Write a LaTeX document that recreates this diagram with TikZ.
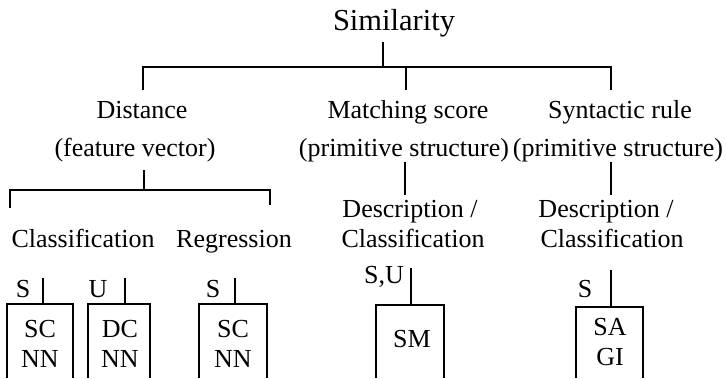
\documentclass[tikz,border=0pt]{standalone}
\usepackage{fontspec}
\setmainfont{Liberation Serif}
\begin{document}
\begin{tikzpicture}[x=1pt,y=-1pt,line width=1.6pt,
  lbl/.style={anchor=base,inner sep=0pt,font=\fontsize{26}{30}\selectfont},
  ttl/.style={anchor=base,inner sep=0pt,font=\fontsize{30.5}{34}\selectfont},
  leafbox/.style={line width=1.6pt}]
\useasboundingbox (0,0) rectangle (726,378);
% title
\node[ttl] (sim) at (394,30) {Similarity};
\coordinate (simb) at (383,42);
\coordinate (bar1) at (383,67);
\draw (simb) -- (bar1);
% second level
\coordinate (d1) at (143,90);
\coordinate (m1) at (406,90);
\coordinate (s1) at (611,90);
\draw (d1) |- (bar1) -| (s1);
\draw (m1) -- (m1 |- bar1);
\node[lbl] (dist) at (142,118) {Distance};
\node[lbl] (distb) at (135,156) {(feature vector)};
\node[lbl] (mat) at (408,118) {Matching score};
\node[lbl] (matb) at (404,156) {(primitive structure)};
\node[lbl] (syn) at (620,118) {Syntactic rule};
\node[lbl] (synb) at (618,156) {(primitive structure)};
% distance branch
\coordinate (dt) at (144,170);
\coordinate (bar2) at (144,190);
\coordinate (cl1) at (10,208);
\coordinate (rg1) at (270,205);
\draw (dt) -- (bar2);
\draw (cl1) |- (bar2) -| (rg1);
\node[lbl] (cls) at (83,247) {Classification};
\node[lbl] (reg) at (234,247) {Regression};
% matching / syntactic branches
\coordinate (mt) at (405,162);
\coordinate (mb) at (405,195);
\coordinate (st) at (611,162);
\coordinate (sb) at (611,195);
\draw (mt) -- (mb);
\draw (st) -- (sb);
\node[lbl] (desc1) at (410,217) {Description /};
\node[lbl] (desc1b) at (413,247) {Classification};
\node[lbl] (desc2) at (606,217) {Description /};
\node[lbl] (desc2b) at (612,247) {Classification};
% leaves
\node[lbl] (lS1) at (23,297) {S};
\node[lbl] (lU) at (98,297) {U};
\node[lbl] (lS2) at (213,297) {S};
\node[lbl] (lSU) at (384,283) {S,U};
\node[lbl] (lS3) at (585,297) {S};
\coordinate (a1) at (43,278); \coordinate (a2) at (43,304);
\coordinate (b1) at (125,278); \coordinate (b2) at (125,304);
\coordinate (c1) at (235,278); \coordinate (c2) at (235,304);
\coordinate (e1) at (411,268); \coordinate (e2) at (411,305);
\coordinate (f1) at (611,270); \coordinate (f2) at (611,307);
\draw (a1) -- (a2);
\draw (b1) -- (b2);
\draw (c1) -- (c2);
\draw (e1) -- (e2);
\draw (f1) -- (f2);
\draw[leafbox] (7,378) |- (a2) -| (73,378);
\draw[leafbox] (88,378) |- (b2) -| (150,378);
\draw[leafbox] (199,378) |- (c2) -| (267,378);
\draw[leafbox] (376,378) |- (e2) -| (444,378);
\draw[leafbox] (576,378) |- (f2) -| (643,378);
\node[lbl] (n1a) at (40,337) {SC};
\node[lbl] (n1b) at (40,367) {NN};
\node[lbl] (n2a) at (120,337) {DC};
\node[lbl] (n2b) at (120,367) {NN};
\node[lbl] (n3a) at (233,337) {SC};
\node[lbl] (n3b) at (233,367) {NN};
\node[lbl] (n4) at (412,347) {SM};
\node[lbl] (n5a) at (610,335) {SA};
\node[lbl] (n5b) at (610,365) {GI};
\end{tikzpicture}
\end{document}
